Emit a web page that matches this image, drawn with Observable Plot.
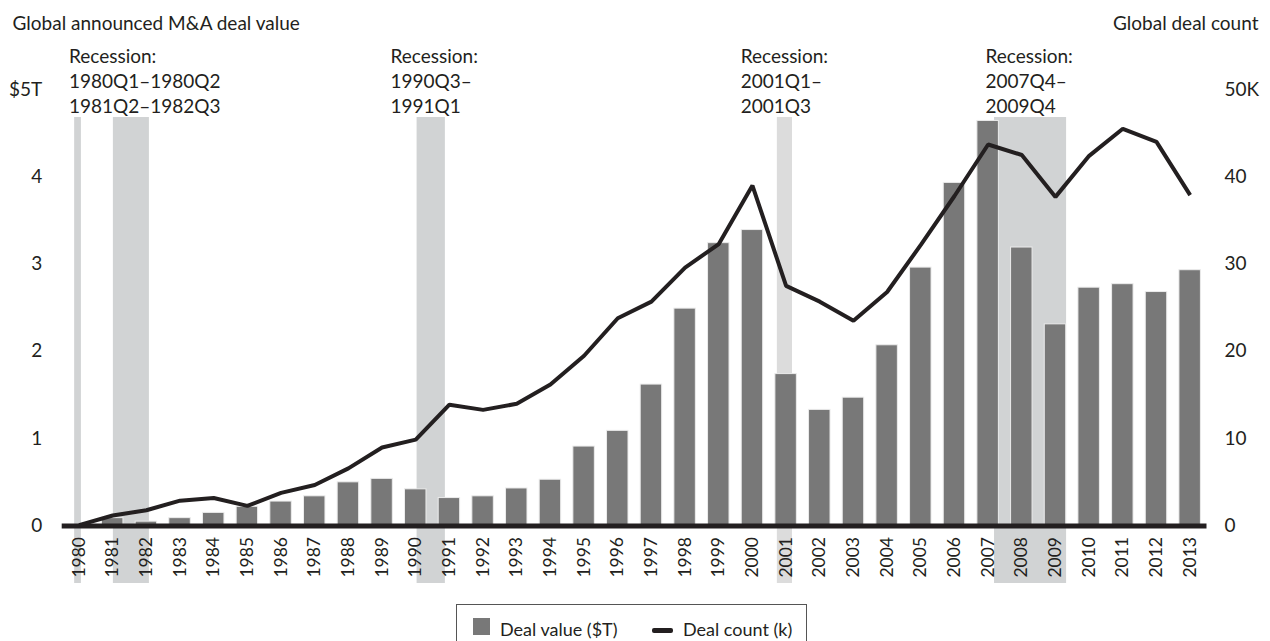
<!DOCTYPE html>
<html><head><meta charset="utf-8">
<script src="https://cdn.jsdelivr.net/npm/d3@7"></script>
<script src="https://cdn.jsdelivr.net/npm/@observablehq/plot@0.6"></script>
<style>
body{margin:0;background:#fff;font-family:Lato,sans-serif;color:#231f20}
#wrap{position:relative;width:1270px;height:641px;overflow:hidden}
#legend{position:absolute;left:456px;top:604px;width:351px;height:60px;border:1px solid #555;box-sizing:border-box;font-size:18px}
#legend .sq{position:absolute;left:16px;top:13px;width:17px;height:17px;background:#787878}
#legend .ln{position:absolute;left:195px;top:23px;width:21px;height:4.5px;background:#231f20;border-radius:2px}
#legend .t{position:absolute;top:14px;line-height:20px;white-space:nowrap}
</style></head><body>
<div id="wrap"><div id="chart"></div>
<div id="legend"><div class="sq"></div><span class="t" style="left:43px">Deal value ($T)</span><div class="ln"></div><span class="t" style="left:226px">Deal count (k)</span></div>
</div>
<script>
// Data
const years = [1980,1981,1982,1983,1984,1985,1986,1987,1988,1989,1990,1991,1992,1993,1994,1995,1996,1997,1998,1999,2000,2001,2002,2003,2004,2005,2006,2007,2008,2009,2010,2011,2012,2013];
const dealValue = [0.0,0.09,0.05,0.09,0.15,0.22,0.28,0.34,0.50,0.54,0.42,0.32,0.34,0.43,0.53,0.91,1.09,1.62,2.49,3.24,3.39,1.74,1.33,1.47,2.07,2.96,3.93,4.64,3.19,2.31,2.73,2.77,2.68,2.93]; // $T
const dealCount = [0.1,1.2,1.8,2.9,3.2,2.3,3.8,4.7,6.6,9.0,9.9,13.9,13.3,14.0,16.2,19.5,23.8,25.7,29.6,32.3,39.0,27.5,25.7,23.5,26.8,32.2,37.8,43.7,42.5,37.7,42.4,45.5,44.0,37.9]; // thousands
// Recession periods (as drawn, in fractional year positions)
const recessionStart = [1979.87,1981.02,1990.04,2000.74,2007.19];
const recessionEnd = [1980.07,1982.09,1990.88,2001.19,2009.33];
// Annotations
const annotationText = ["Recession:\n1980Q1–1980Q2\n1981Q2–1982Q3","Recession:\n1990Q3–\n1991Q1","Recession:\n2001Q1–\n2001Q3","Recession:\n2007Q4–\n2009Q4"];
const annotationYear = [1979.70,1989.25,1999.65,2006.92];
const leftTicks = [0,1,2,3,4,5];
const leftTickLabels = ["0","1","2","3","4","$5T"];
const rightTickLabels = ["0","10","20","30","40","50K"];
const leftTitle = "Global announced M&A deal value";
const rightTitle = "Global deal count";

const data = years.map((y,i)=>({year:y, value:dealValue[i], count:dealCount[i]}));
const recessions = recessionStart.map((s,i)=>({start:s, end:recessionEnd[i]}));
const annotations = annotationText.map((t,i)=>({text:t, x:annotationYear[i]}));

const ink = "#231f20";
const chart = Plot.plot({
  width: 1270,
  height: 600,
  marginLeft: 61.7,
  marginRight: 63.5,
  marginTop: 89,
  marginBottom: 74.5,
  style: {fontFamily: "Lato, sans-serif", fontSize: "19px", color: ink, background: "#fff", overflow: "visible"},
  x: {domain: [1979.5, 2013.5], axis: null},
  y: {domain: [0, 5], axis: null},
  marks: [
    Plot.rect(recessions, {x1: "start", x2: "end", fill: d => (d.start > 2000 && d.start < 2002) ? "#dcdcdc" : "#d1d3d4", insetTop: 28, insetBottom: -57.5}),
    Plot.rectY(data, {x1: d => d.year - 0.5, x2: d => d.year + 0.5, y: "value", fill: "#787878", stroke: "#ececec", strokeWidth: 1, insetLeft: 6.1, insetRight: 6.1}),
    Plot.ruleY([0], {stroke: ink, strokeWidth: 5}),
    Plot.line(data, {x: "year", y: d => d.count / 10, stroke: ink, strokeWidth: 4, strokeLinejoin: "miter", strokeLinecap: "butt"}),
    Plot.axisX({ticks: years, tickFormat: d => String(d), tickRotate: -90, tickSize: 0, tickPadding: 11, fontSize: 17.5, fill: ink, label: null}),
    Plot.axisY({anchor: "left", ticks: leftTicks, tickFormat: (d,i) => leftTickLabels[i], tickSize: 0, tickPadding: 20, fontSize: 19, fill: ink, label: null}),
    Plot.axisY({anchor: "right", ticks: leftTicks, tickFormat: (d,i) => rightTickLabels[i], tickSize: 0, tickPadding: 17.5, fontSize: 19, fill: ink, label: null}),
    Plot.text(annotations, {x: "x", text: "text", frameAnchor: "top", lineAnchor: "top", textAnchor: "start", dy: -44, lineHeight: 1.316, fontSize: 19, fill: ink}),
    Plot.text([leftTitle], {frameAnchor: "top-left", textAnchor: "start", lineAnchor: "top", dx: -49.7, dy: -73.3, fontSize: 19, fill: ink}),
    Plot.text([rightTitle], {frameAnchor: "top-right", textAnchor: "end", lineAnchor: "top", dx: 51.5, dy: -73.3, fontSize: 19, fill: ink})
  ]
});
document.getElementById("chart").appendChild(chart);
</script>
</body></html>
